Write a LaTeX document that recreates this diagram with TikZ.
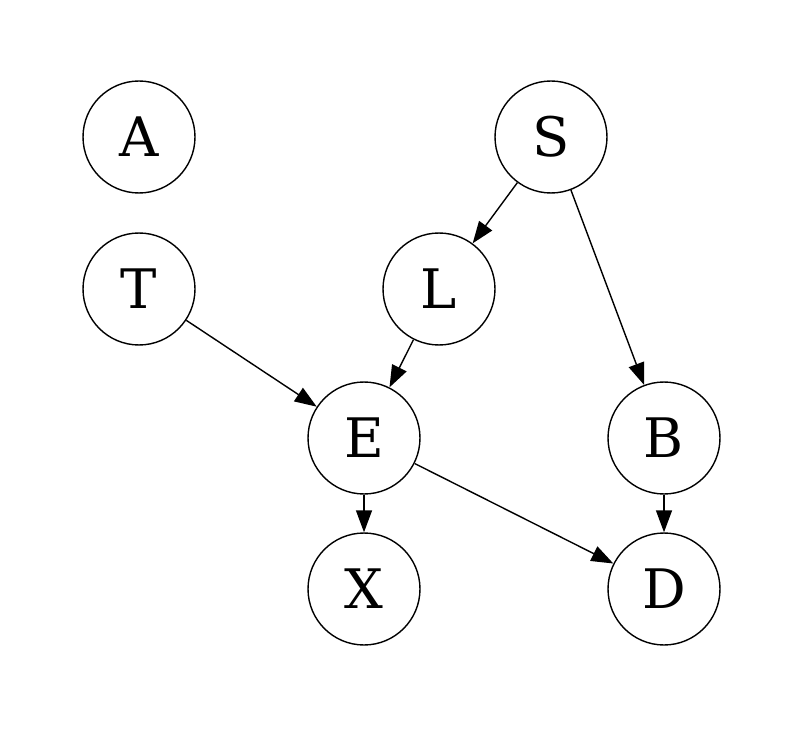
\documentclass[tikz,border=0pt]{standalone}
\usepackage{fontspec}
\setmainfont{DejaVu Serif}
\usetikzlibrary{arrows.meta}
\begin{document}
\begin{tikzpicture}[x=0.02cm,y=-0.02cm,
  var/.style={circle,draw,line width=0.8pt,minimum size=2.24cm,inner sep=0pt,font=\fontsize{31}{36}\selectfont},
  edge/.style={line width=0.8pt,-{Triangle[length=0.44cm,width=0.32cm]}}]
\useasboundingbox (0,0) rectangle (804,729);
\node[var] (A) at (139,137) {A};
\node[var] (S) at (551,137) {S};
\node[var] (T) at (139,289) {T};
\node[var] (L) at (439,289) {L};
\node[var] (E) at (364,438) {E};
\node[var] (B) at (664,438) {B};
\node[var] (X) at (364,589) {X};
\node[var] (D) at (664,589) {D};
\draw[edge] (S) -- (L);
\draw[edge] (S) -- (B);
\draw[edge] (T) -- (E);
\draw[edge] (L) -- (E);
\draw[edge] (E) -- (X);
\draw[edge] (E) -- (D);
\draw[edge] (B) -- (D);
\end{tikzpicture}
\end{document}
